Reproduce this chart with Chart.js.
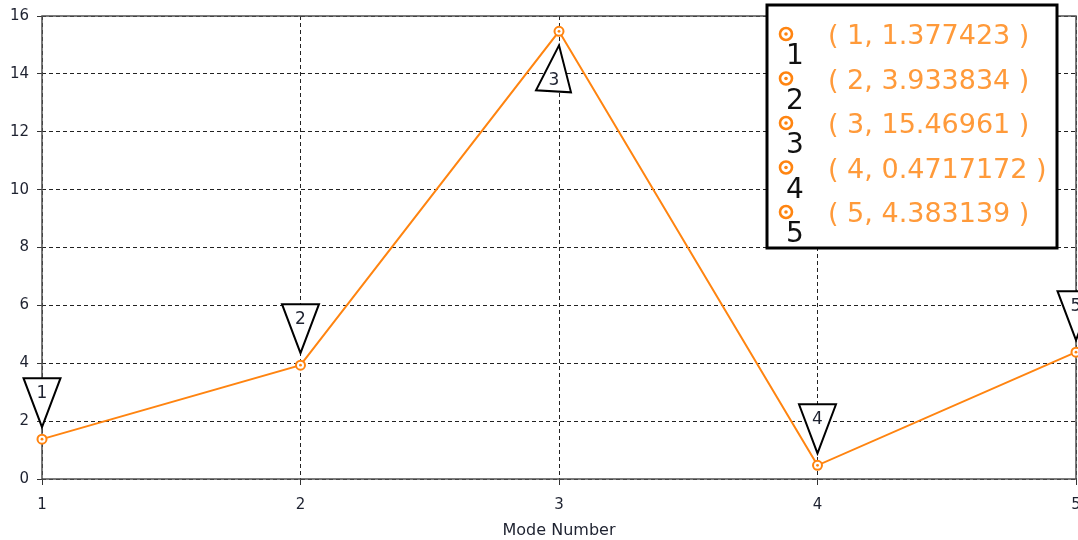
<!DOCTYPE html>
<html>
<head>
<meta charset="utf-8">
<script src="https://cdn.jsdelivr.net/npm/chart.js@4"></script>
<style>
  html, body { margin: 0; padding: 0; background: #fff; }
  #wrap { width: 1078px; height: 540px; position: relative; }
</style>
</head>
<body>
<div id="wrap"><canvas id="c" width="1078" height="540"></canvas></div>
<script>
// Mode numbers and their values
const modes = [1, 2, 3, 4, 5];
const modeValues = [1.377423, 3.933834, 15.46961, 0.4717172, 4.383139];
const xTickValues = [1, 2, 3, 4, 5];
const yTickValues = [0, 2, 4, 6, 8, 10, 12, 14, 16];
const xAxisTitle = 'Mode Number';

const ORANGE = '#ff8410';
const LEGEND_TEXT = '#ff9a3a';
const INK = '#1e2230';
const FONT = 'DejaVu Sans';

// Solid frame around the plot area (the grid itself is dashed)
const framePlugin = {
  id: 'frame',
  beforeDatasetsDraw(chart) {
    const { ctx, chartArea: a } = chart;
    ctx.save();
    ctx.strokeStyle = '#505050';
    ctx.lineWidth = 1.5;
    ctx.strokeRect(a.left, a.top, a.right - a.left, a.bottom - a.top);
    ctx.restore();
  }
};

// Centre dot inside each ring marker
const dotPlugin = {
  id: 'dots',
  afterDatasetsDraw(chart) {
    const { ctx } = chart;
    const meta = chart.getDatasetMeta(0);
    ctx.save();
    ctx.fillStyle = ORANGE;
    meta.data.forEach(pt => {
      ctx.beginPath();
      ctx.arc(pt.x, pt.y, 1.4, 0, Math.PI * 2);
      ctx.fill();
    });
    ctx.restore();
  }
};

// Triangular call-out flags with the mode number, pointing at each marker
const flagPlugin = {
  id: 'flags',
  afterDatasetsDraw(chart) {
    const { ctx, chartArea } = chart;
    const meta = chart.getDatasetMeta(0);
    ctx.save();
    ctx.strokeStyle = '#000';
    ctx.lineWidth = 2;
    ctx.lineJoin = 'miter';
    ctx.font = '17px "' + FONT + '"';
    ctx.textAlign = 'center';
    ctx.textBaseline = 'middle';
    meta.data.forEach((pt, i) => {
      const x = pt.x, y = pt.y;
      let pts, lx, ly;
      if (y - 61 < chartArea.top) {
        // no room above: flag hangs below the marker
        pts = [[x, y + 14], [x - 23, y + 59], [x + 12, y + 61]];
        lx = x - 5; ly = y + 49;
      } else {
        pts = [[x, y - 12], [x - 18.5, y - 61], [x + 18.5, y - 61]];
        lx = x; ly = y - 46;
      }
      ctx.beginPath();
      ctx.moveTo(pts[0][0], pts[0][1]);
      ctx.lineTo(pts[1][0], pts[1][1]);
      ctx.lineTo(pts[2][0], pts[2][1]);
      ctx.closePath();
      ctx.fillStyle = '#fff';
      ctx.fill();
      ctx.stroke();
      ctx.fillStyle = INK;
      ctx.fillText(String(modes[i]), lx, ly);
    });
    ctx.restore();
  }
};

// Boxed list of (mode, value) pairs in the upper right
const pairListPlugin = {
  id: 'pairList',
  afterDraw(chart) {
    const { ctx } = chart;
    const left = 767, top = 5, w = 290, h = 243;
    const rowH = 44.5;
    ctx.save();
    ctx.fillStyle = '#fff';
    ctx.fillRect(left, top, w, h);
    ctx.strokeStyle = '#000';
    ctx.lineWidth = 3;
    ctx.strokeRect(left, top, w, h);
    modes.forEach((m, i) => {
      const cy = top + 29 + i * rowH;
      const mx = left + 19;
      // ring marker
      ctx.strokeStyle = ORANGE;
      ctx.lineWidth = 2.6;
      ctx.fillStyle = '#fff';
      ctx.beginPath();
      ctx.arc(mx, cy, 6, 0, Math.PI * 2);
      ctx.fill();
      ctx.stroke();
      ctx.fillStyle = ORANGE;
      ctx.beginPath();
      ctx.arc(mx, cy, 1.8, 0, Math.PI * 2);
      ctx.fill();
      // mode number under the marker
      ctx.fillStyle = '#111';
      ctx.font = '28px "' + FONT + '"';
      ctx.textAlign = 'center';
      ctx.textBaseline = 'alphabetic';
      ctx.fillText(String(m), mx + 9, cy + 30);
      // pair text
      ctx.fillStyle = LEGEND_TEXT;
      ctx.font = '27px "' + FONT + '"';
      ctx.textAlign = 'left';
      ctx.textBaseline = 'middle';
      ctx.fillText('( ' + m + ', ' + String(modeValues[i]) + ' )', left + 61, cy + 3);
    });
    ctx.restore();
  }
};

new Chart(document.getElementById('c'), {
  type: 'line',
  data: {
    datasets: [{
      data: modes.map((m, i) => ({ x: m, y: modeValues[i] })),
      borderColor: ORANGE,
      borderWidth: 2,
      tension: 0,
      pointRadius: 4.5,
      pointHoverRadius: 4.5,
      pointBorderWidth: 2,
      pointBorderColor: ORANGE,
      pointBackgroundColor: '#fff',
      clip: false
    }]
  },
  options: {
    responsive: false,
    animation: false,
    devicePixelRatio: 1,
    layout: { autoPadding: false, padding: { top: 16, right: 2, left: 0, bottom: 0 } },
    plugins: {
      legend: { display: false },
      tooltip: { enabled: false }
    },
    scales: {
      x: {
        type: 'linear',
        min: 1,
        max: 5,
        afterBuildTicks: s => { s.ticks = xTickValues.map(v => ({ value: v })); },
        afterFit: s => { s.height = 61; s.paddingLeft = 0; s.paddingRight = 0; },
        grid: { color: '#222', lineWidth: 1, tickLength: 6, tickColor: '#333', tickBorderDash: [] },
        border: { display: false, dash: [4, 3] },
        ticks: {
          font: { family: FONT, size: 15 },
          color: INK,
          padding: 11,
          maxRotation: 0,
          autoSkip: false
        },
        title: {
          display: true,
          text: xAxisTitle,
          font: { family: FONT, size: 16 },
          color: INK,
          padding: { top: 2, bottom: 0 }
        }
      },
      y: {
        type: 'linear',
        min: 0,
        max: 16,
        afterBuildTicks: s => { s.ticks = yTickValues.map(v => ({ value: v })); },
        afterFit: s => { s.width = 42; s.paddingTop = 0; s.paddingBottom = 0; },
        grid: { color: '#222', lineWidth: 1, tickLength: 5, tickColor: '#333', tickBorderDash: [] },
        border: { display: false, dash: [4, 3] },
        ticks: {
          font: { family: FONT, size: 15 },
          color: INK,
          padding: 8,
          autoSkip: false
        }
      }
    }
  },
  plugins: [framePlugin, dotPlugin, flagPlugin, pairListPlugin]
});
</script>
</body>
</html>
